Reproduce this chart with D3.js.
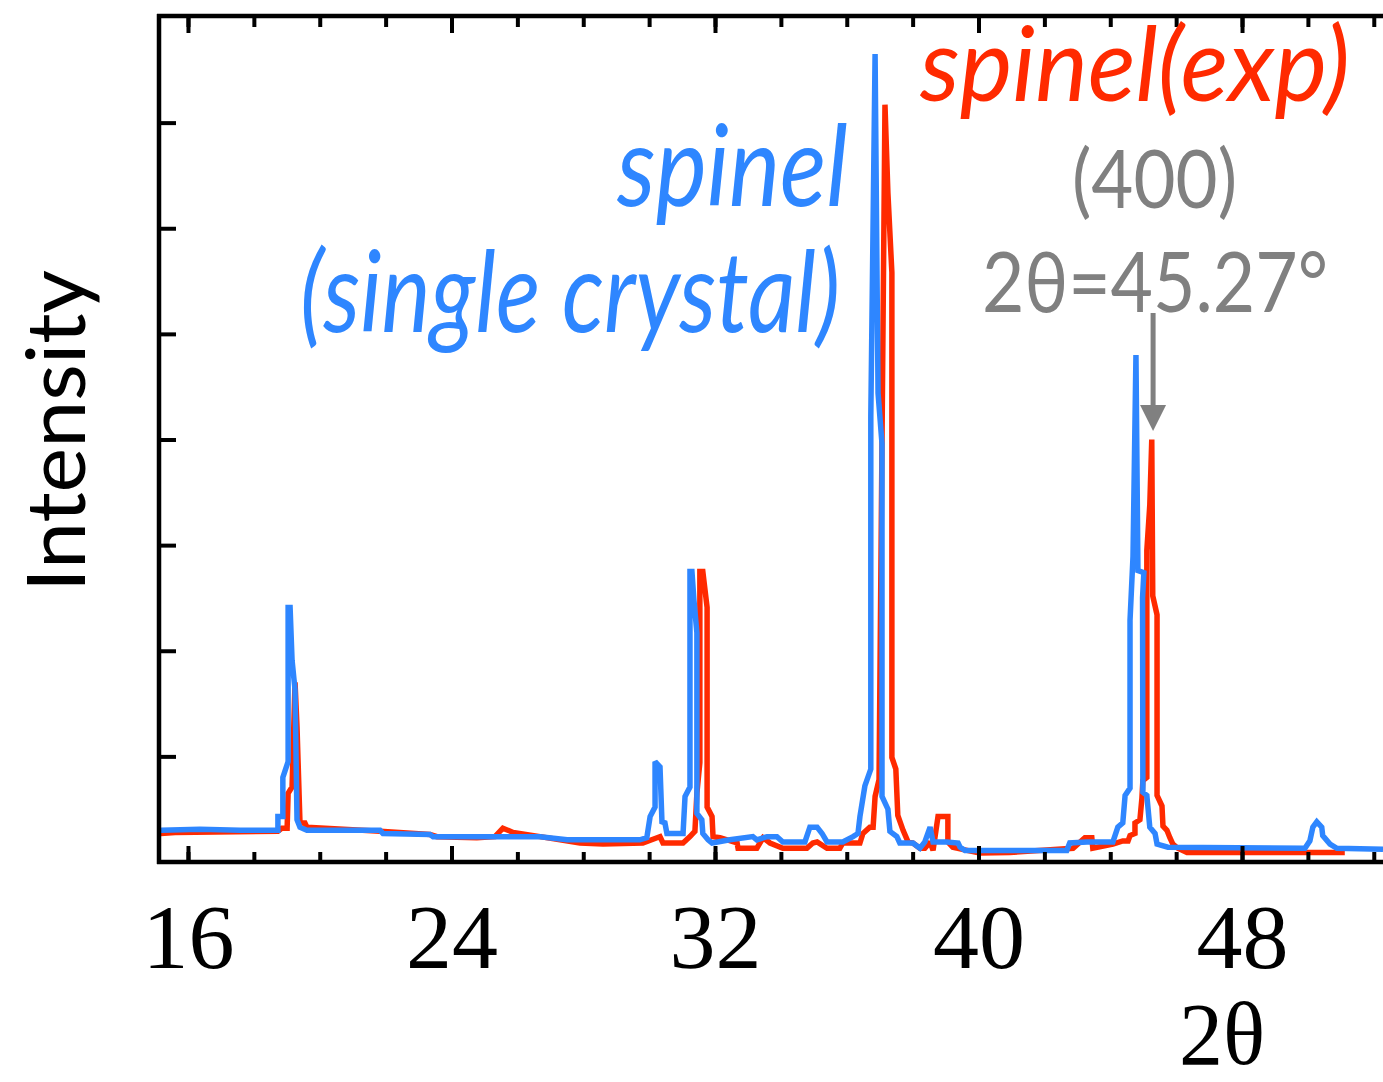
<!DOCTYPE html>
<html><head><meta charset="utf-8">
<script src="https://cdn.jsdelivr.net/npm/d3@7"></script>
<style>body{margin:0;background:#fff;overflow:hidden}</style></head>
<body><svg id="c" width="1383" height="1082"></svg>
<script>
// ---- data ----
const minorTicks = [16,18,20,22,24,26,28,30,32,34,36,38,40,42,44,46,48,50,52];
const majorTicks = [16,24,32,40,48];
const tickLabels = ["16","24","32","40","48"];
const intensityTicks = [1,2,3,4,5,6,7];

// single-crystal spinel (blue)
const blueTheta = [15.15,16.36,17.58,18.73,18.73,18.88,18.88,19.04,19.04,19.10,19.16,19.25,19.31,19.40,19.61,21.83,21.92,23.35,23.44,26.69,27.51,29.72,29.93,30.03,30.18,30.18,30.33,30.39,30.48,30.54,31.03,31.09,31.24,31.24,31.30,31.36,31.45,31.45,31.60,31.63,31.79,31.91,32.45,33.15,33.27,33.58,33.88,34.06,34.73,34.88,35.10,35.25,35.40,35.88,36.19,36.34,36.40,36.55,36.73,36.73,36.86,36.95,37.07,37.07,37.25,37.31,37.52,37.61,38.01,38.22,38.37,38.53,38.62,39.04,39.38,39.44,39.59,42.68,42.77,43.29,44.08,44.23,44.38,44.45,44.60,44.60,44.69,44.78,44.84,45.02,44.98,44.99,45.11,45.20,45.36,45.42,45.75,49.91,50.06,50.15,50.27,50.42,50.45,50.67,50.88,52.28];
const blueIntensity = [0.30,0.31,0.30,0.30,0.43,0.43,0.80,0.95,2.41,2.41,1.91,1.63,0.40,0.33,0.30,0.30,0.27,0.26,0.24,0.24,0.21,0.21,0.23,0.43,0.52,0.95,0.90,0.38,0.37,0.27,0.27,0.62,0.71,2.75,2.75,2.48,2.17,0.46,0.40,0.27,0.21,0.18,0.21,0.24,0.21,0.24,0.24,0.19,0.19,0.33,0.33,0.27,0.19,0.19,0.24,0.27,0.43,0.72,0.88,4.22,7.65,4.44,3.96,0.62,0.50,0.29,0.24,0.18,0.18,0.13,0.19,0.33,0.19,0.19,0.18,0.14,0.11,0.11,0.18,0.19,0.19,0.33,0.37,0.63,0.70,2.29,2.89,4.80,2.76,2.74,2.50,0.66,0.63,0.33,0.27,0.17,0.14,0.13,0.20,0.33,0.38,0.33,0.25,0.17,0.13,0.12];

// experimental spinel (red)
const redTheta = [15.15,15.61,18.73,18.85,19.01,19.04,19.16,19.25,19.31,19.40,19.55,19.61,21.83,23.35,23.56,24.77,25.32,25.56,25.87,26.69,27.90,28.60,29.81,30.24,30.33,30.42,31.03,31.24,31.33,31.39,31.45,31.54,31.54,31.63,31.76,31.76,31.91,31.94,32.15,32.67,32.70,33.27,33.46,33.67,34.06,34.79,34.97,35.10,35.40,35.79,35.88,36.40,36.49,36.70,36.80,36.86,36.98,37.16,37.25,37.37,37.37,37.49,37.55,37.71,37.86,38.01,38.22,38.37,38.53,38.62,38.77,39.07,39.07,39.22,39.65,40.04,40.95,42.87,43.23,43.44,43.47,44.08,44.38,44.54,44.60,44.75,44.75,44.90,44.96,44.99,45.11,45.11,45.20,45.26,45.29,45.42,45.42,45.57,45.60,45.72,45.81,45.90,46.05,46.33,51.12];
const redIntensity = [0.27,0.28,0.29,0.32,0.32,0.65,0.71,1.70,1.28,0.37,0.37,0.33,0.29,0.26,0.24,0.23,0.24,0.32,0.28,0.24,0.18,0.17,0.18,0.23,0.24,0.18,0.18,0.24,0.27,0.29,0.65,0.94,2.75,2.75,2.41,0.52,0.43,0.24,0.23,0.18,0.13,0.13,0.23,0.18,0.13,0.13,0.18,0.19,0.13,0.13,0.18,0.18,0.27,0.33,0.33,0.62,0.78,7.17,6.33,5.58,0.99,0.88,0.44,0.30,0.19,0.18,0.13,0.13,0.19,0.11,0.43,0.43,0.19,0.14,0.11,0.085,0.09,0.13,0.23,0.23,0.13,0.17,0.20,0.20,0.25,0.27,0.37,0.40,0.60,0.77,0.80,2.95,3.38,4.00,2.52,2.34,0.63,0.53,0.34,0.30,0.23,0.17,0.13,0.09,0.09];

// ---- chart ----
const svg = d3.select("#c");
const x = d3.scaleLinear().domain([15.12, 52.28]).range([159, 1383]);
const y = d3.scaleLinear().domain([0, 8]).range([862, 17]);
const BLUE = "#2e86ff", RED = "#ff2a00", GRAY = "#808080";

svg.append("clipPath").attr("id","clip").append("rect")
  .attr("x",161).attr("y",18).attr("width",1222).attr("height",842);

const line = d3.line().x(d=>x(d[0])).y(d=>y(d[1]));
const redData = redTheta.map((t,i)=>[t, redIntensity[i]]);
const blueData = blueTheta.map((t,i)=>[t, blueIntensity[i]]);
const g = svg.append("g").attr("clip-path","url(#clip)");
g.append("path").datum(redData).attr("d",line).attr("fill","none")
  .attr("stroke",RED).attr("stroke-width",5.5).attr("stroke-linejoin","miter").attr("stroke-miterlimit",2);
g.append("path").datum(blueData).attr("d",line).attr("fill","none")
  .attr("stroke",BLUE).attr("stroke-width",5.5).attr("stroke-linejoin","miter").attr("stroke-miterlimit",2);

function styleAxis(sel){
  sel.select(".domain").attr("stroke","#000").attr("stroke-width",4.5);
  sel.selectAll(".tick line").attr("stroke","#000").attr("stroke-width",4);
}
// bottom
const bMinor = svg.append("g").attr("transform","translate(0,862)")
  .call(d3.axisBottom(x).tickValues(minorTicks).tickSizeInner(-10).tickSizeOuter(0).tickFormat(""));
styleAxis(bMinor);
const bMajor = svg.append("g").attr("transform","translate(0,862)")
  .call(d3.axisBottom(x).tickValues(majorTicks).tickSizeInner(-16).tickSizeOuter(0)
    .tickFormat((d,i)=>tickLabels[i]));
styleAxis(bMajor);
bMajor.select(".domain").remove();
bMajor.selectAll(".tick text").attr("y",106).attr("dy",0)
  .attr("font-family","'Liberation Serif', serif").attr("font-size",92).attr("fill","#000");
// top
const tMinor = svg.append("g").attr("transform","translate(0,16)")
  .call(d3.axisTop(x).tickValues(minorTicks).tickSizeInner(-11).tickSizeOuter(0).tickFormat(""));
styleAxis(tMinor);
const tMajor = svg.append("g").attr("transform","translate(0,16)")
  .call(d3.axisTop(x).tickValues(majorTicks).tickSizeInner(-17).tickSizeOuter(0).tickFormat(""));
styleAxis(tMajor); tMajor.select(".domain").remove();
// left
const lAx = svg.append("g").attr("transform","translate(159,0)")
  .call(d3.axisLeft(y).tickValues(intensityTicks).tickSizeInner(-17).tickSizeOuter(0).tickFormat(""));
styleAxis(lAx);
lAx.select(".domain").attr("d","M0,14V864");
bMinor.select(".domain").attr("d","M157,0H1383");
tMinor.select(".domain").attr("d","M157,0H1383");

// axis titles
svg.append("text").attr("transform","translate(85,592) rotate(-90)")
  .attr("font-family","Lato, 'Open Sans', sans-serif").attr("font-size",82)
  .attr("textLength",322).attr("lengthAdjust","spacingAndGlyphs").text("Intensity");
svg.append("text").attr("x",1222).attr("y",1064).attr("text-anchor","middle")
  .attr("font-family","'Liberation Serif', serif").attr("font-size",88).text("2θ");

// annotations
function label(txt, xx, yy, size, color, len, italic){
  svg.append("text").attr("x",xx).attr("y",yy).attr("font-family","Lato, sans-serif")
    .attr("font-size",size).attr("fill",color).attr("font-style",italic?"italic":"normal")
    .attr("textLength",len).attr("lengthAdjust","spacingAndGlyphs").text(txt);
}
label("spinel", 617, 206, 112, BLUE, 231, true);
label("(single crystal)", 300, 332, 112, BLUE, 540, true);
label("spinel(exp)", 920, 101, 102, RED, 430, true);
label("(400)", 1072, 208, 82, GRAY, 165, false);
label("2θ=45.27°", 982, 312, 84, GRAY, 346, false);

// arrow to (400) peak
const ax = x(45.30);
svg.append("line").attr("x1",ax).attr("x2",ax).attr("y1",313).attr("y2",410)
  .attr("stroke",GRAY).attr("stroke-width",5);
svg.append("path").attr("d",`M${ax-13},405L${ax+13},405L${ax},431Z`).attr("fill",GRAY);
</script></body></html>
